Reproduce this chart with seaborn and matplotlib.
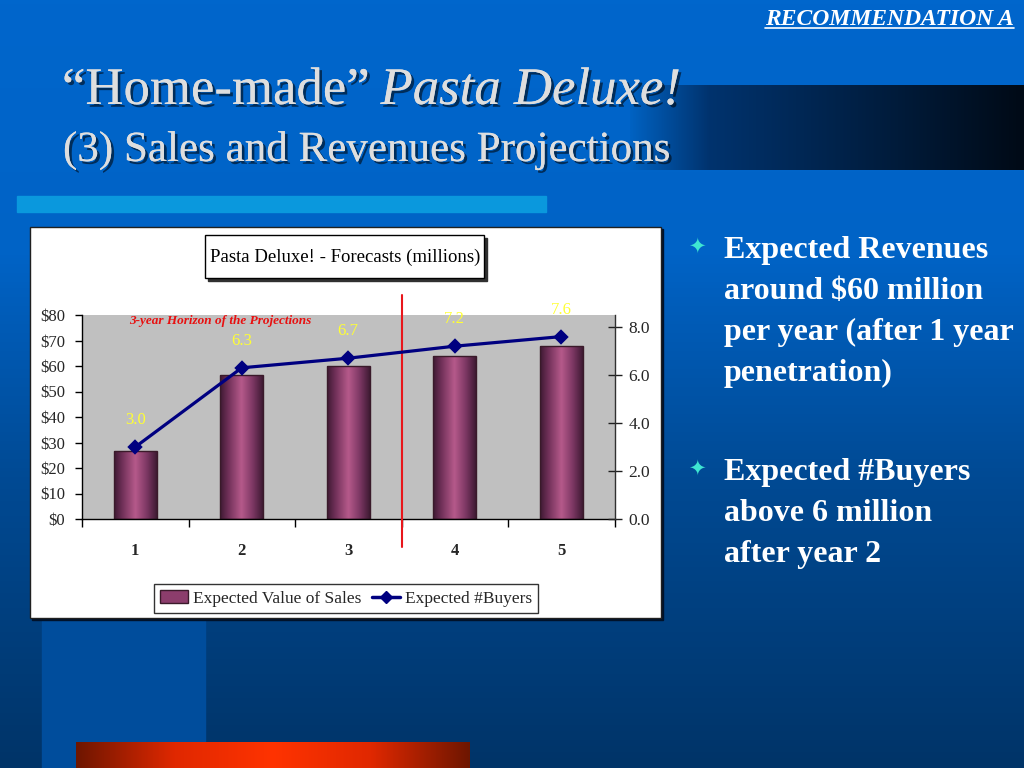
import numpy as np
import pandas as pd
import matplotlib
matplotlib.use("Agg")
import matplotlib.pyplot as plt
import matplotlib.patheffects as pe
from matplotlib.colors import LinearSegmentedColormap
from matplotlib.patches import Rectangle, Patch
from matplotlib.lines import Line2D
import seaborn as sns

# ---- data ----
years = ["1", "2", "3", "4", "5"]
sales = [26.5, 56.5, 60.0, 64.0, 68.0]          # expected value of sales ($M)
buyers = [3.0, 6.3, 6.7, 7.2, 7.6]              # expected #buyers (M)
buyer_labels = ["3.0", "6.3", "6.7", "7.2", "7.6"]
sales_ticks = [0, 10, 20, 30, 40, 50, 60, 70, 80]
buyer_ticks = [0.0, 2.0, 4.0, 6.0, 8.0]

sns.set_style("white")
plt.rcParams["font.family"] = ["Liberation Serif", "DejaVu Serif"]

W, H = 1024, 768
fig = plt.figure(figsize=(10.24, 7.68), dpi=100)

def fx(px):
    return px / W

def fy(py):
    return 1 - py / H

# ---- slide background (pixel coords) ----
bg = fig.add_axes([0, 0, 1, 1], zorder=0)
bg.set_xlim(0, W)
bg.set_ylim(H, 0)
bg.axis("off")
bg_cmap = LinearSegmentedColormap.from_list(
    "slide", [(0, "#0066cc"), (0.33, "#0063c6"), (0.62, "#004a94"), (1, "#003468")])
bg.imshow(np.linspace(0, 1, 256).reshape(-1, 1), cmap=bg_cmap, aspect="auto",
          extent=(0, W, H, 0), zorder=0)

# dark band behind the title
band_cmap = LinearSegmentedColormap.from_list(
    "band", [(0, "#0062c2"), (0.2, "#00336e"), (0.7, "#001a38"), (1, "#000a16")])
bg.imshow(np.linspace(0, 1, 256).reshape(1, -1), cmap=band_cmap, aspect="auto",
          extent=(630, W, 170, 85), zorder=1)

# light blue rule under the title
bg.add_patch(Rectangle((17, 196), 529, 16, color="#0a98dd", zorder=1))
# lighter column at bottom left
bg.add_patch(Rectangle((42, 600), 163, 168, color="#004d9c", zorder=1))
# orange bar at the bottom
orange_cmap = LinearSegmentedColormap.from_list(
    "orange", ["#6e1600", "#e02800", "#ff3300", "#e02800", "#6e1600"])
bg.imshow(np.linspace(0, 1, 256).reshape(1, -1), cmap=orange_cmap, aspect="auto",
          extent=(76, 470, 768, 742), zorder=1)

# chart frame
bg.add_patch(Rectangle((32, 229), 631, 391, color="#00122a", zorder=2))
bg.add_patch(Rectangle((30, 227), 631, 391, facecolor="white",
                       edgecolor="#202020", linewidth=1, zorder=3))
# chart title box
bg.add_patch(Rectangle((208, 238), 279, 43, color="#303030", zorder=4))
bg.add_patch(Rectangle((205, 235), 279, 43, facecolor="white",
                       edgecolor="black", linewidth=1, zorder=5))
bg.text(345, 257, "Pasta Deluxe! - Forecasts (millions)", ha="center", va="center",
        fontsize=13.5, color="black", zorder=6)

# ---- titles ----
shadow = [pe.withSimplePatchShadow(offset=(2, -2), shadow_rgbFace="black", alpha=0.55),
          pe.Normal()]
t1 = fig.text(fx(62), fy(104), "\u201cHome-made\u201d", fontsize=38, color="#dedede",
              va="baseline", path_effects=shadow)
fig.canvas.draw()
bb = t1.get_window_extent()
fig.text((bb.x1 + 11) / W, fy(104), "Pasta Deluxe!", fontsize=38, style="italic",
         color="#dedede", va="baseline", path_effects=shadow)
fig.text(fx(63), fy(161), "(3) Sales and Revenues Projections", fontsize=31,
         color="#dedede", va="baseline", path_effects=shadow)

rec = fig.text(fx(1014), fy(25), "RECOMMENDATION A", fontsize=17, color="white",
               weight="bold", style="italic", ha="right", va="baseline")
fig.canvas.draw()
rb = rec.get_window_extent()
fig.add_artist(Line2D([rb.x0 / W, rb.x1 / W], [fy(28), fy(28)], color="white", lw=1.2))

# ---- bullet text ----
bullets = [
    (248, ["Expected Revenues", "around $60 million", "per year (after 1 year", "penetration)"]),
    (470, ["Expected #Buyers", "above 6 million", "after year 2"]),
]
for ytop, lines in bullets:
    fig.text(fx(697), fy(ytop), "\u2726", fontsize=15, color="#3ee6d2", ha="center",
             va="center", family="DejaVu Sans")
    for k, line in enumerate(lines):
        fig.text(fx(724), fy(ytop + 10 + 41 * k), line, fontsize=23, color="white",
                 weight="bold", va="baseline")

# ---- chart ----
ax = fig.add_axes([fx(82), fy(519), fx(614.5) - fx(82), (519 - 315) / H], zorder=2)
ax.set_facecolor("#c0c0c0")
df = pd.DataFrame({"year": years, "sales": sales})
sns.barplot(data=df, x="year", y="sales", ax=ax, width=0.4, color="#8c3d6c",
            edgecolor="#3a1a2a", linewidth=1, saturation=1, errorbar=None)

bar_cmap = LinearSegmentedColormap.from_list(
    "bar", [(0, "#3f1a33"), (0.18, "#6e2f57"), (0.5, "#b65a8b"), (0.78, "#7a3662"), (1, "#401b34")])
grad = np.linspace(0, 1, 64).reshape(1, -1)
for p in ax.patches:
    x0, w, h = p.get_x(), p.get_width(), p.get_height()
    im = ax.imshow(grad, cmap=bar_cmap, aspect="auto", extent=(x0, x0 + w, 0, h),
                   zorder=p.get_zorder() - 0.1)
    im.set_clip_path(p)
    p.set_facecolor("none")

ax.set_xlim(-0.5, 4.5)
ax.set_ylim(0, 80)
ax.set_yticks(sales_ticks)
ax.set_yticklabels([f"${v}" for v in sales_ticks], fontsize=12)
ax.tick_params(axis="y", direction="out", length=5, width=1, color="black", pad=7, left=True)
ax.set_xticks([-0.5, 0.5, 1.5, 2.5, 3.5, 4.5])
ax.set_xticklabels([])
ax.set_xticks(range(len(years)), minor=True)
ax.set_xticklabels(years, minor=True, fontsize=12, weight="bold")
ax.tick_params(axis="x", which="major", direction="out", length=6, width=1,
               color="black", bottom=True)
ax.tick_params(axis="x", which="minor", length=0, pad=17)
ax.set_xlabel("")
ax.set_ylabel("")
for s in ["top", "right"]:
    ax.spines[s].set_visible(False)
for s in ["left", "bottom"]:
    ax.spines[s].set_color("black")
    ax.spines[s].set_linewidth(1)

ax2 = ax.twinx()
sns.pointplot(x=years, y=buyers, ax=ax2, color="#000080", markers="D",
              markersize=6, linewidth=2.3, errorbar=None)
ax2.set_xlim(-0.5, 4.5)
ax2.set_ylim(0, 8.5)
ax2.set_yticks(buyer_ticks)
ax2.set_yticklabels([f"{v:.1f}" for v in buyer_ticks], fontsize=12.5)
ax2.tick_params(axis="y", direction="inout", length=10, width=1, color="#202020",
                pad=5, right=True)
ax2.set_ylabel("")
for s in ["top", "left", "bottom"]:
    ax2.spines[s].set_visible(False)
ax2.spines["right"].set_color("#303030")
ax2.spines["right"].set_linewidth(1)

for i, lab in enumerate(buyer_labels):
    ax2.annotate(lab, (i, buyers[i]), xytext=(0, 19.5), textcoords="offset points",
                 ha="center", va="center", fontsize=12, color="#ffff33")

# 3-year horizon marker
ax2.plot([2.5, 2.5], [-1.17, 9.35], color="#e8161b", lw=1.5, clip_on=False, zorder=1)
ax2.text(0.259, 0.97, "3-year Horizon of the Projections", transform=ax2.transAxes,
         ha="center", va="center", fontsize=9.5, style="italic", weight="bold",
         color="#e81010")

handles = [Patch(facecolor="#8c3d6c", edgecolor="#3a1a2a"),
           Line2D([], [], color="#000080", lw=2.5, marker="D", markersize=6)]
leg = fig.legend(handles, ["Expected Value of Sales", "Expected #Buyers"], ncol=2,
                 loc="center", bbox_to_anchor=(fx(346), fy(598.5)), fontsize=12.5,
                 frameon=True, fancybox=False, shadow=False, handlelength=1.6,
                 handletextpad=0.3, columnspacing=0.6, borderpad=0.35)
leg.get_frame().set_edgecolor("black")
leg.get_frame().set_linewidth(1)
leg.set_zorder(5)

fig.savefig("out.png", dpi=100)
